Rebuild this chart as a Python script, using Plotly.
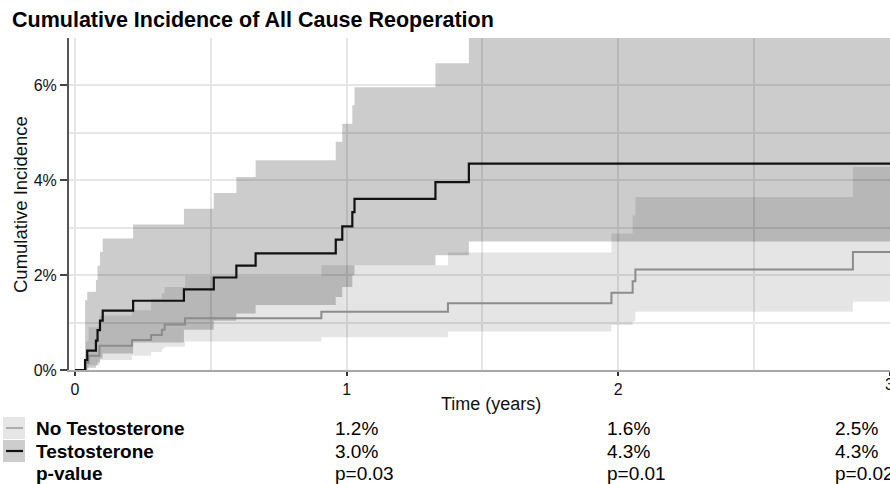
import plotly.graph_objects as go

# ---------------- data ----------------
# No Testosterone: step times (years), estimate and 95% CI (%)
no_t_time = [0.040, 0.050, 0.090, 0.210, 0.280, 0.320, 0.330, 0.405, 0.907, 1.373, 1.975, 2.053, 2.063, 2.864, 3.05]
no_t_est = [0.15, 0.30, 0.51, 0.63, 0.74, 0.85, 0.96, 1.09, 1.23, 1.41, 1.63, 1.87, 2.12, 2.49, 2.49]
no_t_low = [0.00, 0.10, 0.21, 0.30, 0.38, 0.45, 0.49, 0.60, 0.69, 0.81, 0.95, 1.02, 1.23, 1.44, 1.44]
no_t_up = [0.60, 0.90, 1.15, 1.26, 1.50, 1.62, 1.75, 1.98, 2.21, 2.48, 2.88, 3.26, 3.65, 4.28, 4.28]

# Testosterone
t_time = [0.037, 0.045, 0.077, 0.083, 0.092, 0.102, 0.214, 0.401, 0.511, 0.594, 0.665, 0.960, 0.984, 1.021, 1.029, 1.327, 1.450, 3.05]
t_est = [0.21, 0.41, 0.62, 0.84, 1.04, 1.25, 1.46, 1.70, 1.95, 2.20, 2.46, 2.75, 3.03, 3.33, 3.61, 3.96, 4.35, 4.35]
t_low = [0.02, 0.05, 0.10, 0.16, 0.24, 0.35, 0.58, 0.85, 1.04, 1.19, 1.37, 1.54, 1.75, 2.00, 2.21, 2.42, 2.71, 2.71]
t_up = [1.47, 1.65, 1.90, 2.20, 2.49, 2.77, 3.07, 3.40, 3.73, 4.07, 4.42, 4.81, 5.19, 5.58, 5.96, 6.47, 7.60, 7.60]

# Table below the plot
group_labels = ["No Testosterone", "Testosterone", "p-value"]
no_t_table = ["1.2%", "1.6%", "2.5%"]
t_table = ["3.0%", "4.3%", "4.3%"]
p_table = ["p=0.03", "p=0.01", "p=0.02"]

x_ticks = [0, 1, 2, 3]
y_ticks = [0, 0.02, 0.04, 0.06]

FONT = "Liberation Sans, Arial, sans-serif"

# ---------------- layout geometry helpers ----------------
W, H = 890, 484
L, R, T, B = 69, 0, 38, 114
PW, PH = W - L - R, H - T - B


def px(x):
    return (x - L) / PW


def py(y):
    return (H - B - y) / PH


fig = go.Figure()

pct = lambda arr: [v / 100 for v in arr]

# bands
fig.add_trace(go.Scatter(x=no_t_time, y=pct(no_t_low), mode="lines", line=dict(width=0, shape="hv"),
                         showlegend=False, hoverinfo="skip"))
fig.add_trace(go.Scatter(x=no_t_time, y=pct(no_t_up), mode="lines", line=dict(width=0, shape="hv"),
                         fill="tonexty", fillcolor="rgba(0,0,0,0.10)", showlegend=False, hoverinfo="skip"))
fig.add_trace(go.Scatter(x=t_time, y=pct(t_low), mode="lines", line=dict(width=0, shape="hv"),
                         showlegend=False, hoverinfo="skip"))
fig.add_trace(go.Scatter(x=t_time, y=pct(t_up), mode="lines", line=dict(width=0, shape="hv"),
                         fill="tonexty", fillcolor="rgba(0,0,0,0.20)", showlegend=False, hoverinfo="skip"))

# lines
fig.add_trace(go.Scatter(x=[0] + no_t_time, y=[0] + pct(no_t_est), mode="lines",
                         line=dict(color="#8c8c8c", width=2, shape="hv"), name="No Testosterone",
                         showlegend=False))
fig.add_trace(go.Scatter(x=[0] + t_time, y=[0] + pct(t_est), mode="lines",
                         line=dict(color="#111111", width=2.2, shape="hv"), name="Testosterone",
                         showlegend=False))

grid_col = "#e6e6e6"
fig.update_xaxes(range=[-0.0221, 3.0005], tickmode="array", tickvals=x_ticks, ticktext=[str(v) for v in x_ticks],
                 ticks="outside", ticklen=4, tickwidth=2, tickcolor="#333",
                 showline=True, linecolor="#a8a8a8", linewidth=1.5,
                 showgrid=True, gridcolor=grid_col, gridwidth=1.5,
                 minor=dict(dtick=0.5, tick0=0, showgrid=True, gridcolor=grid_col, gridwidth=1.5, ticks=""),
                 tickfont=dict(family=FONT, size=16, color="#111"), zeroline=False, fixedrange=True)
fig.update_yaxes(range=[0, 0.07], tickmode="array", tickvals=y_ticks, tickformat=".0%",
                 ticks="outside", ticklen=7, tickwidth=1.5, tickcolor="#444",
                 showline=True, linecolor="#555", linewidth=2,
                 showgrid=True, gridcolor=grid_col, gridwidth=1.5,
                 minor=dict(dtick=0.01, tick0=0, showgrid=True, gridcolor=grid_col, gridwidth=1.5, ticks=""),
                 tickfont=dict(family=FONT, size=16, color="#111"), zeroline=False, fixedrange=True)

annotations = []
# last x tick label sits on the right edge (partly cut, as in the reference)
annotations.append(dict(text=str(x_ticks[-1]), x=x_ticks[-1], y=py(384), xref="x", yref="paper",
                        showarrow=False, xanchor="center", yanchor="middle",
                        font=dict(family=FONT, size=16, color="#111")))
# axis titles
annotations.append(dict(text="Time (years)", x=px(491), y=py(404), xref="paper", yref="paper",
                        showarrow=False, xanchor="center", yanchor="middle",
                        font=dict(family=FONT, size=18, color="#111")))
annotations.append(dict(text="Cumulative Incidence", x=px(20), y=py(205), xref="paper", yref="paper",
                        showarrow=False, xanchor="center", yanchor="middle", textangle=-90,
                        font=dict(family=FONT, size=18.5, color="#111")))

# table
row_y = [428, 451, 473]
col_x = [333, 605, 833]
for lab, yy in zip(group_labels, row_y):
    annotations.append(dict(text=lab, x=px(34), y=py(yy), xref="paper", yref="paper", showarrow=False,
                            xanchor="left", yanchor="middle",
                            font=dict(family=FONT, size=19, color="#000", weight="bold")))
for vals, yy in zip([no_t_table, t_table, p_table], row_y):
    for v, xx in zip(vals, col_x):
        annotations.append(dict(text=v, x=px(xx), y=py(yy), xref="paper", yref="paper", showarrow=False,
                                xanchor="left", yanchor="middle",
                                font=dict(family=FONT, size=19, color="#000")))

shapes = [
    dict(type="rect", xref="paper", yref="paper", x0=px(3), x1=px(25), y0=py(417), y1=py(439),
         fillcolor="#e6e6e6", line=dict(width=0)),
    dict(type="line", xref="paper", yref="paper", x0=px(6), x1=px(23), y0=py(428), y1=py(428),
         line=dict(color="#9a9a9a", width=1.5)),
    dict(type="rect", xref="paper", yref="paper", x0=px(3), x1=px(25), y0=py(440), y1=py(462),
         fillcolor="#cdcdcd", line=dict(width=0)),
    dict(type="line", xref="paper", yref="paper", x0=px(6), x1=px(23), y0=py(451), y1=py(451),
         line=dict(color="#111", width=2.2)),
]

fig.update_layout(
    width=W, height=H,
    margin=dict(l=L, r=R, t=T, b=B, pad=0),
    paper_bgcolor="white", plot_bgcolor="white",
    title=dict(text="Cumulative Incidence of All Cause Reoperation", x=12 / W, xref="container",
               y=1 - 19 / H, yref="container", xanchor="left", yanchor="middle",
               font=dict(family=FONT, size=21.5, color="#000", weight="bold")),
    annotations=annotations, shapes=shapes, showlegend=False,
)

fig.write_html("out.html", config={"displayModeBar": False},
               post_script="document.body.style.margin='0';document.body.style.padding='0';"
                           "document.body.style.overflow='hidden';")
